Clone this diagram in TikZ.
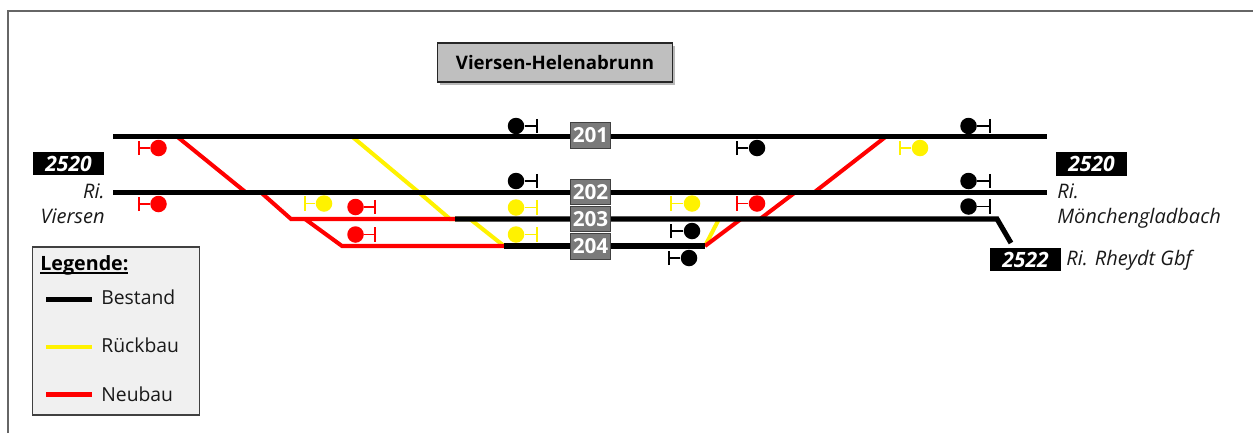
\documentclass[tikz,border=0pt]{standalone}
\usepackage{fontspec}
\setmainfont{Open Sans}
\usetikzlibrary{arrows.meta, positioning, shadows}

\begin{document}
\begin{tikzpicture}[
    x=0.02cm, y=-0.02cm,
    % styles
    track/.style={draw=black, line width=2.9pt},
    track_new/.style={draw=red, line width=2.3pt},
    track_old/.style={draw=yellow, line width=2.3pt},
    track_label/.style={
        draw=black!75, fill=black!52, line width=0.8pt, text=white, font=\fontsize{11.8}{11.8}\selectfont\bfseries,
        minimum width=39.5*0.02cm, minimum height=25.5*0.02cm, inner sep=0pt
    },
    line_label/.style={
        fill=black, text=white, font=\fontsize{12}{12}\selectfont\bfseries\itshape,
        minimum width=71*0.02cm, minimum height=23.5*0.02cm, inner sep=0pt
    },
    dest_label/.style={
        font=\fontsize{11.4}{14.2}\selectfont\itshape, inner sep=0pt, text=black!90
    },
    sig_dot/.style={circle, fill=#1, minimum size=16.5*0.02cm, inner sep=0pt},
    sig_stem/.style={draw=#1, line width=0.9pt, -{Bar[width=8pt, line width=0.9pt]}},
    legend_text/.style={anchor=west, inner sep=0pt, font=\fontsize{11}{12}\selectfont, text=black!90}
]
    \useasboundingbox (0,0) rectangle (1253,433);

    % --- 1. FRAME ---
    \coordinate (frame_a) at (8,433);
    \coordinate (frame_b) at (8,11);
    \coordinate (frame_c) at (1253,11);
    \draw[black!60, line width=0.7pt] (frame_a) -- (frame_b) -- (frame_c);

    % --- 2. TITLE ---
    \node[draw=black!85, fill=black!25, line width=0.6pt, minimum width=235*0.02cm, minimum height=39*0.02cm,
        drop shadow={shadow xshift=1.6pt, shadow yshift=-1.8pt, fill=black!55},
        font=\fontsize{10.6}{12}\selectfont\bfseries] (title) at (555,62.5) {Viersen-Helenabrunn};

    % --- 3. TRACK POINTS ---
    \coordinate (t201_w) at (113,136.5);
    \coordinate (t201_e) at (1047,136.5);
    \coordinate (t202_w) at (113,192.5);
    \coordinate (t202_e) at (1047,192.5);
    \coordinate (t203_w) at (455,219);
    \coordinate (t203_e) at (997,219);
    \coordinate (t203_end) at (1011,243);
    \coordinate (t204_w) at (504,246);
    \coordinate (t204_e) at (705,246);

    % --- 4. REMOVED AND NEW TRACKS (below the black ones) ---
    \coordinate (old_a) at (352,136.5);
    \coordinate (old_b) at (419,192.5);
    \coordinate (old_c) at (450,219);
    \coordinate (old_d) at (470,219);
    \draw[track_old] (old_a) -- (old_b) -- (old_c) -- (old_d) -- (t204_w);
    \coordinate (old_e) at (719,219);
    \draw[track_old] (t204_e) -- (old_e);

    \coordinate (new_a) at (177,136.5);
    \coordinate (new_b) at (246,192.5);
    \coordinate (new_c) at (261,192.5);
    \coordinate (new_d) at (291,219);
    \draw[track_new] (new_a) -- (new_b) -- (new_c) -- (new_d) -- (t203_w);
    \coordinate (new_e) at (305,219);
    \coordinate (new_f) at (342,246);
    \draw[track_new] (new_e) -- (new_f) -- (t204_w);
    \coordinate (new_g) at (741,219);
    \coordinate (new_h) at (760,219);
    \coordinate (new_i) at (795,192.5);
    \coordinate (new_j) at (814,192.5);
    \coordinate (new_k) at (886,136.5);
    \draw[track_new] (t204_e) -- (new_g) -- (new_h) -- (new_i) -- (new_j) -- (new_k);

    % --- 5. EXISTING TRACKS ---
    \draw[track] (t201_w) -- (t201_e);
    \draw[track] (t202_w) -- (t202_e);
    \draw[track] (t203_w) -- (t203_e) -- (t203_end);
    \draw[track] (t204_w) -- (t204_e);

    % --- 6. TRACK NUMBERS ---
    \node[track_label] (n201) at (590.5,135.5) {201};
    \node[track_label] (n202) at (590.5,192) {202};
    \node[track_label] (n203) at (590.5,219) {203};
    \node[track_label] (n204) at (590.5,246.5) {204};

    % --- 7. SIGNALS ---
    \foreach \nm/\sx/\sy/\bx/\col in {
        a/158.5/148/138/red, b/158.5/204/138/red, c/324/203.5/304/yellow,
        d/355.5/207/376/red, e/355.5/234.5/376/red,
        f/516/126/538/black, g/516/181/538/black, h/516/207.5/538/yellow, i/516/234.5/538/yellow,
        j/757/148/736/black, k/692/203.5/670/yellow, l/757/203.5/736/red,
        m/692/231/670/black, n/689/258/668/black,
        o/920/148/899/yellow, p/968.5/126/991/black, q/968.5/181/991/black, r/968.5/206.5/991/black}{
        \node[sig_dot=\col] (sig_\nm) at (\sx,\sy) {};
        \coordinate (bar_\nm) at (\bx,\sy);
        \draw[sig_stem=\col] (sig_\nm) -- (bar_\nm);
    }

    % --- 8. LINE NUMBERS AND DESTINATIONS ---
    \node[line_label] (line_w) at (68.5,163.5) {2520};
    \node[line_label] (line_e) at (1091.5,164) {2520};
    \node[line_label] (line_r) at (1025.5,259.5) {2522};

    \node[dest_label, align=right, anchor=north east] (dest_w) at (105,183) {Ri.\\Viersen};
    \node[dest_label, align=left, anchor=north west] (dest_e) at (1057,183) {Ri.\\Mönchengladbach};
    \node[dest_label, anchor=west] (dest_r) at (1066,260) {Ri. Rheydt Gbf};

    % --- 9. LEGEND ---
    \node[draw=black!75, fill=black!6, line width=0.6pt, minimum width=166.5*0.02cm, minimum height=168*0.02cm] (legend) at (116.2,331) {};
    \node[anchor=west, inner sep=0pt, font=\fontsize{11.2}{12}\selectfont\bfseries] (legend_title) at (40,265.5) {\setbox0\hbox{Legende:}\rlap{\rule[-1.7pt]{\wd0}{0.9pt}}\box0};

    \coordinate (leg_a1) at (46,299.5);
    \coordinate (leg_a2) at (92,299.5);
    \coordinate (leg_b1) at (46,347);
    \coordinate (leg_b2) at (92,347);
    \coordinate (leg_c1) at (46,394.5);
    \coordinate (leg_c2) at (92,394.5);
    \draw[track] (leg_a1) -- (leg_a2);
    \draw[track_old] (leg_b1) -- (leg_b2);
    \draw[track_new] (leg_c1) -- (leg_c2);
    \node[legend_text] (leg_a) at (101,297) {Bestand};
    \node[legend_text] (leg_b) at (101,345.5) {Rückbau};
    \node[legend_text] (leg_c) at (101,394) {Neubau};

\end{tikzpicture}
\end{document}
